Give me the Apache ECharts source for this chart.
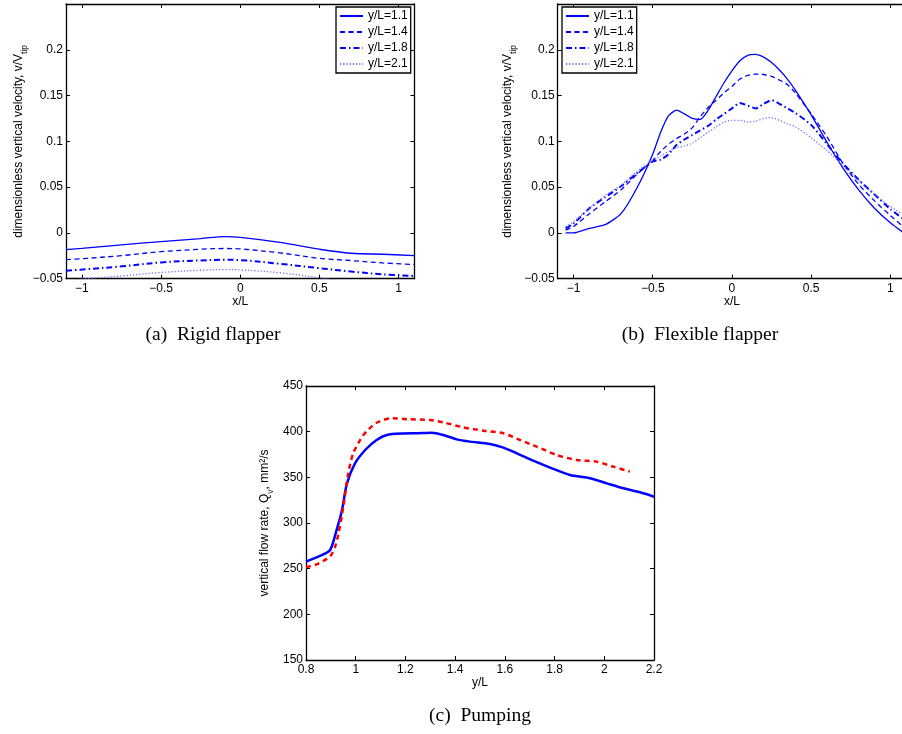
<!DOCTYPE html>
<html><head><meta charset="utf-8">
<script src="https://cdn.jsdelivr.net/npm/echarts@6/dist/echarts.min.js"></script>
<style>html,body{margin:0;padding:0;background:#fff}#c{width:902px;height:734px}</style>
</head><body><div id="c"></div>
<script>
// ---------- data ----------
const legendNames = ['y/L=1.1', 'y/L=1.4', 'y/L=1.8', 'y/L=2.1'];

// (a) rigid flapper
const rigidX   = [-1.1, -1.0, -0.75, -0.5, -0.25, -0.1, 0, 0.25, 0.5, 0.7, 0.9, 1.1];
const rigid11  = [-0.0182, -0.0168, -0.013, -0.0095, -0.0062, -0.004, -0.0048, -0.0103, -0.0178, -0.0222, -0.0233, -0.0248];
const rigid14  = [-0.0292, -0.0282, -0.0248, -0.0205, -0.0178, -0.017, -0.0175, -0.0218, -0.0278, -0.0302, -0.0328, -0.0345];
const rigid18  = [-0.0412, -0.040, -0.0365, -0.0322, -0.030, -0.0293, -0.0297, -0.0337, -0.0385, -0.0422, -0.0452, -0.047];
const rigid21  = [-0.053, -0.0505, -0.047, -0.0432, -0.0408, -0.040, -0.0404, -0.0435, -0.049, -0.054, -0.057, -0.06];

// (b) flexible flapper
const flexX  = [-1.05, -1, -0.9, -0.8, -0.7, -0.6, -0.5, -0.45, -0.4, -0.35, -0.3, -0.25, -0.2, -0.15, -0.1, -0.05, 0, 0.05, 0.1, 0.15, 0.2, 0.25, 0.3, 0.35, 0.4, 0.5, 0.6, 0.7, 0.8, 0.9, 1.0, 1.1];
const flex11 = [0, 0, 0.005, 0.009, 0.021, 0.049, 0.086, 0.110, 0.128, 0.134, 0.130, 0.125, 0.124, 0.134, 0.149, 0.164, 0.177, 0.188, 0.194, 0.195, 0.192, 0.186, 0.178, 0.168, 0.156, 0.129, 0.099, 0.071, 0.047, 0.027, 0.011, -0.002];
const flex14 = [0.003, 0.007, 0.021, 0.034, 0.047, 0.064, 0.079, 0.089, 0.097, 0.103, 0.108, 0.115, 0.127, 0.137, 0.145, 0.153, 0.160, 0.168, 0.172, 0.1735, 0.173, 0.171, 0.167, 0.162, 0.153, 0.130, 0.105, 0.076, 0.053, 0.035, 0.019, 0.004];
const flex18 = [0.005, 0.010, 0.027, 0.039, 0.051, 0.065, 0.078, 0.080, 0.086, 0.096, 0.102, 0.107, 0.112, 0.117, 0.124, 0.130, 0.136, 0.142, 0.139, 0.136, 0.141, 0.145, 0.141, 0.136, 0.131, 0.118, 0.097, 0.076, 0.058, 0.042, 0.026, 0.013];
const flex21 = [0.007, 0.012, 0.027, 0.041, 0.052, 0.067, 0.079, 0.084, 0.089, 0.093, 0.095, 0.098, 0.104, 0.110, 0.116, 0.121, 0.123, 0.123, 0.121, 0.122, 0.125, 0.126, 0.123, 0.119, 0.116, 0.104, 0.090, 0.074, 0.057, 0.042, 0.029, 0.018];

// (c) pumping
const pumpSolidX = [0.8, 0.856, 0.897, 0.923, 0.944, 0.964, 0.997, 1.04, 1.084, 1.125, 1.192, 1.245, 1.306, 1.352, 1.406, 1.46, 1.54, 1.594, 1.648, 1.714, 1.782, 1.862, 1.943, 2.01, 2.077, 2.144, 2.2];
const pumpSolidY = [257.7, 263.9, 270.4, 292.3, 313, 342.5, 365.3, 380.5, 390.9, 396.4, 398.0, 398.2, 398.9, 396.4, 391.6, 389.1, 386.5, 382.5, 376.3, 368.2, 360.6, 352.6, 348.9, 343.4, 338, 333.6, 328.8];
const pumpDashX  = [0.8, 0.843, 0.897, 0.917, 0.932, 0.95, 0.97, 0.99, 1.031, 1.084, 1.145, 1.218, 1.299, 1.352, 1.433, 1.513, 1.594, 1.661, 1.728, 1.808, 1.889, 1.969, 2.036, 2.103];
const pumpDashY  = [251.5, 254.7, 263.5, 274, 290, 317.8, 354.4, 376.3, 396.3, 409.8, 414.6, 413.5, 412.8, 410.2, 404.7, 401.1, 398.2, 390.9, 383.6, 374.5, 369, 367.2, 361.7, 356.2];

const captions = ['(a)  Rigid flapper', '(b)  Flexible flapper', '(c)  Pumping'];

// ---------- helpers ----------
const FONT = 'Liberation Sans';
const FS = 12;
const BLUE = '#0000ff';
const pairs = (xs, ys) => xs.map((x, i) => [x, ys[i]]);
const fmt = d => v => String(+(+v).toFixed(d)).replace('-', '\u2212');

const lineStyles = [
  { color: BLUE, width: 1.3, type: 'solid' },
  { color: BLUE, width: 1.3, type: [5, 3.5] },
  { color: BLUE, width: 2.0, type: [6, 3, 1.5, 3] },
  { color: '#6b6bff', width: 1.3, type: [1.2, 2] }
];

function xAx(grid, min, max, extra, isTop) {
  return Object.assign({
    type: 'value', gridIndex: grid, min: min, max: max,
    position: isTop ? 'top' : 'bottom',
    axisLine: { show: true, onZero: false, lineStyle: { color: '#000', width: 1.3 } },
    axisTick: { show: true, inside: true, length: 4, lineStyle: { color: '#000', width: 1 } },
    splitLine: { show: false },
    axisLabel: { show: !isTop, color: '#000', fontFamily: FONT, fontSize: FS, margin: 4 }
  }, extra);
}
function yAx(grid, min, max, extra, isRight) {
  return Object.assign({
    type: 'value', gridIndex: grid, min: min, max: max,
    position: isRight ? 'right' : 'left',
    axisLine: { show: true, onZero: false, lineStyle: { color: '#000', width: 1.3 } },
    axisTick: { show: true, inside: true, length: 4, lineStyle: { color: '#000', width: 1 } },
    splitLine: { show: false },
    axisLabel: { show: !isRight, color: '#000', fontFamily: FONT, fontSize: FS, margin: 4 }
  }, extra);
}

const abX = { minInterval: 0.5, maxInterval: 0.5, splitNumber: 4 };
const abXLabel = { show: true, color: '#000', fontFamily: FONT, fontSize: FS, margin: 4, formatter: fmt(2), showMinLabel: false, showMaxLabel: false };
const abY = { interval: 0.05 };
const abYLabel = { show: true, color: '#000', fontFamily: FONT, fontSize: FS, margin: 3, formatter: fmt(2), showMaxLabel: false };

const nameStyle = { color: '#000', fontFamily: FONT, fontSize: FS };
const yNameRich = {
  color: '#000', fontFamily: FONT, fontSize: FS,
  rich: {
    m: { fontFamily: FONT, fontSize: FS, color: '#000' },
    s: { fontFamily: FONT, fontSize: 8.5, color: '#000', verticalAlign: 'bottom', lineHeight: 20 }
  }
};

const grids = [
  { left: 66, top: 4, width: 348.5, height: 274.7, outerBoundsMode: 'none', containLabel: false },
  { left: 557.7, top: 4, width: 348.5, height: 274.7, outerBoundsMode: 'none', containLabel: false },
  { left: 306, top: 386, width: 348, height: 274, outerBoundsMode: 'none', containLabel: false }
];

const xAxes = [
  xAx(0, -1.1, 1.1, Object.assign({}, abX, { axisLabel: abXLabel, name: 'x/L', nameLocation: 'middle', nameGap: 15, nameTextStyle: nameStyle })),
  xAx(0, -1.1, 1.1, abX, true),
  xAx(1, -1.1, 1.1, Object.assign({}, abX, { axisLabel: abXLabel, name: 'x/L', nameLocation: 'middle', nameGap: 15, nameTextStyle: nameStyle })),
  xAx(1, -1.1, 1.1, abX, true),
  xAx(2, 0.8, 2.2, { interval: 0.2, axisLabel: { show: true, color: '#000', fontFamily: FONT, fontSize: FS, margin: 4, formatter: fmt(1) }, name: 'y/L', nameLocation: 'middle', nameGap: 16, nameTextStyle: nameStyle }),
  xAx(2, 0.8, 2.2, { interval: 0.2 }, true)
];
const yAxes = [
  yAx(0, -0.05, 0.25, Object.assign({}, abY, { axisLabel: abYLabel, name: '{m|dimensionless vertical velocity, v/V}{s|tip}', nameLocation: 'middle', nameGap: 36, nameTextStyle: yNameRich })),
  yAx(0, -0.05, 0.25, abY, true),
  yAx(1, -0.05, 0.25, Object.assign({}, abY, { axisLabel: abYLabel, name: '{m|dimensionless vertical velocity, v/V}{s|tip}', nameLocation: 'middle', nameGap: 40, nameTextStyle: yNameRich })),
  yAx(1, -0.05, 0.25, abY, true),
  yAx(2, 150, 450, { interval: 50, axisLabel: { show: true, color: '#000', fontFamily: FONT, fontSize: FS, margin: 3 }, name: '{m|vertical flow rate, Q}{s|v}{m|, mm\u00B2/s}', nameLocation: 'middle', nameGap: 31, nameTextStyle: yNameRich }),
  yAx(2, 150, 450, { interval: 50 }, true)
];

const series = [];
[rigid11, rigid14, rigid18, rigid21].forEach((ys, i) => {
  series.push({ type: 'line', name: legendNames[i], xAxisIndex: 0, yAxisIndex: 0, data: pairs(rigidX, ys),
    smooth: 0.35, symbol: 'none', lineStyle: lineStyles[i], itemStyle: { color: lineStyles[i].color }, clip: true, animation: false });
});
[flex11, flex14, flex18, flex21].forEach((ys, i) => {
  series.push({ type: 'line', name: legendNames[i], xAxisIndex: 2, yAxisIndex: 2, data: pairs(flexX, ys),
    smooth: 0.2, symbol: 'none', lineStyle: lineStyles[i], itemStyle: { color: lineStyles[i].color }, clip: true, animation: false });
});
series.push({ type: 'line', name: 'pump-solid', xAxisIndex: 4, yAxisIndex: 4, data: pairs(pumpSolidX, pumpSolidY),
  smooth: 0.25, symbol: 'none', lineStyle: { color: BLUE, width: 2.5 }, itemStyle: { color: BLUE }, animation: false });
series.push({ type: 'line', name: 'pump-dashed', xAxisIndex: 4, yAxisIndex: 4, data: pairs(pumpDashX, pumpDashY),
  smooth: 0.25, symbol: 'none', lineStyle: { color: '#ff0000', width: 2.5, type: [5, 4] }, itemStyle: { color: '#ff0000' }, animation: false });

function legendAt(left) {
  return {
    orient: 'vertical', left: left, top: 7, data: legendNames, selectedMode: false,
    itemWidth: 23, itemHeight: 11, itemGap: 4, padding: [3, 3, 3, 3],
    itemStyle: { opacity: 0, borderWidth: 0 },
    backgroundColor: '#fff', borderColor: '#000', borderWidth: 1.3, borderRadius: 0,
    textStyle: { color: '#000', fontFamily: FONT, fontSize: FS, lineHeight: 11 }
  };
}

function cap(text, x, y) {
  return { type: 'text', x: x, y: y, silent: true,
    style: { text: text, font: '19.5px "Liberation Serif"', fill: '#000', align: 'center', verticalAlign: 'middle', textAlign: 'center', textVerticalAlign: 'middle' } };
}

const chart = echarts.init(document.getElementById('c'), null, { renderer: 'canvas' });
chart.setOption({
  backgroundColor: '#fff',
  animation: false,
  grid: grids,
  xAxis: xAxes,
  yAxis: yAxes,
  legend: [legendAt(336), legendAt(562)],
  series: series,
  graphic: [cap(captions[0], 213, 335), cap(captions[1], 700, 335), cap(captions[2], 480, 716)]
});
</script>
</body></html>
